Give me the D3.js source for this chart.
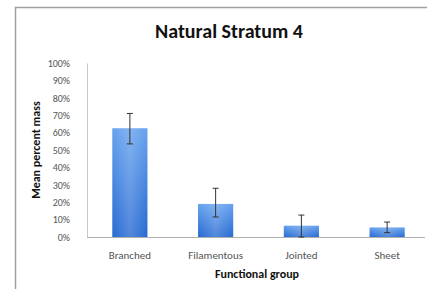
<!DOCTYPE html>
<html><head><meta charset="utf-8">
<script src="https://cdn.jsdelivr.net/npm/d3@7"></script>
<style>html,body{margin:0;background:#fff;overflow:hidden;}svg{display:block;}</style>
</head><body>
<script>
const categories = ["Branched", "Filamentous", "Jointed", "Sheet"];
const means = [0.625, 0.19, 0.065, 0.055];
const errUpper = [0.71, 0.28, 0.126, 0.086];
const errLower = [0.535, 0.115, 0.0, 0.025];
const yTicks = [0,0.1,0.2,0.3,0.4,0.5,0.6,0.7,0.8,0.9,1.0];

(function(){
const W = 427, H = 289;
const svg = d3.select("body").append("svg").attr("width", W).attr("height", H);
const defs = svg.append("defs");
const gv = defs.append("linearGradient").attr("id","gv").attr("x1",0).attr("y1",0).attr("x2",0).attr("y2",1);
gv.append("stop").attr("offset","0%").attr("stop-color","#66a2ee");
gv.append("stop").attr("offset","100%").attr("stop-color","#276ad2");
const gh = defs.append("linearGradient").attr("id","gh").attr("x1",0).attr("y1",0).attr("x2",1).attr("y2",0);
gh.append("stop").attr("offset","0%").attr("stop-color","#ffffff").attr("stop-opacity",0);
gh.append("stop").attr("offset","50%").attr("stop-color","#ffffff").attr("stop-opacity",0.2);
gh.append("stop").attr("offset","100%").attr("stop-color","#ffffff").attr("stop-opacity",0);

svg.append("path").attr("d",`M15.5,${H}V7.5H${W}`)
  .attr("fill","none").attr("stroke","#a0a0a0").attr("stroke-width",1.5);

const pl = 87, pr = 430, pt = 63, pb = 237;
const x = d3.scaleBand().domain(categories).range([pl, pr]).paddingInner(0.59).paddingOuter(0.295);
const y = d3.scaleLinear().domain([0,1]).range([pb, pt]);

const ff = "Carlito, 'Open Sans', 'Liberation Sans', sans-serif";

svg.append("text").attr("x",229).attr("y",38).attr("text-anchor","middle")
  .attr("font-family",ff).attr("font-weight","bold").attr("font-size",20).attr("fill","#111")
  .text("Natural Stratum 4");

const yAxis = d3.axisLeft(y).tickValues(yTicks).tickFormat(d3.format(".0%")).tickSize(0).tickSizeOuter(0).tickPadding(17);
const ga = svg.append("g").attr("transform",`translate(${pl},0)`).call(yAxis);
ga.select(".domain").attr("stroke","#c8c8c8");
ga.selectAll("text").attr("font-family",ff).attr("font-size",10).attr("fill","#555");

const xAxis = d3.axisBottom(x).tickSize(0).tickSizeOuter(0).tickPadding(14);
const gx = svg.append("g").attr("transform",`translate(0,${pb})`).call(xAxis);
gx.select(".domain").attr("d",`M${pl},0.5H425`).attr("stroke","#b0b0b0");
gx.selectAll("text").attr("font-family",ff).attr("font-size",11).attr("fill","#555");

const data = categories.map((c,i)=>({c, m:means[i], hi:errUpper[i], lo:errLower[i]}));
svg.selectAll("rect.bar").data(data).join("rect").attr("class","bar")
  .attr("x",d=>x(d.c)).attr("width",x.bandwidth())
  .attr("y",d=>y(d.m)).attr("height",d=>pb-y(d.m)).attr("fill","url(#gv)");
svg.selectAll("rect.shine").data(data).join("rect").attr("class","shine")
  .attr("x",d=>x(d.c)).attr("width",x.bandwidth())
  .attr("y",d=>y(d.m)).attr("height",d=>pb-y(d.m)).attr("fill","url(#gh)");

const eb = svg.selectAll("g.err").data(data).join("g").attr("class","err");
const cx = d=>x(d.c)+x.bandwidth()/2;
eb.append("line").attr("x1",cx).attr("x2",cx)
  .attr("y1",d=>y(d.hi)).attr("y2",d=>y(d.lo)).attr("stroke","#333").attr("stroke-width",1);
eb.append("line").attr("x1",d=>cx(d)-3).attr("x2",d=>cx(d)+3)
  .attr("y1",d=>y(d.hi)).attr("y2",d=>y(d.hi)).attr("stroke","#333").attr("stroke-width",1);
eb.append("line").attr("x1",d=>cx(d)-3).attr("x2",d=>cx(d)+3)
  .attr("y1",d=>y(d.lo)).attr("y2",d=>y(d.lo)).attr("stroke","#333").attr("stroke-width",1);

svg.append("text").attr("transform",`translate(40,${(pt+pb)/2}) rotate(-90)`)
  .attr("text-anchor","middle").attr("font-family",ff).attr("font-weight","bold").attr("font-size",12).attr("fill","#111")
  .text("Mean percent mass");
svg.append("text").attr("x",257).attr("y",278).attr("text-anchor","middle")
  .attr("font-family",ff).attr("font-weight","bold").attr("font-size",12).attr("fill","#111")
  .text("Functional group");
})();
</script>
</body></html>
